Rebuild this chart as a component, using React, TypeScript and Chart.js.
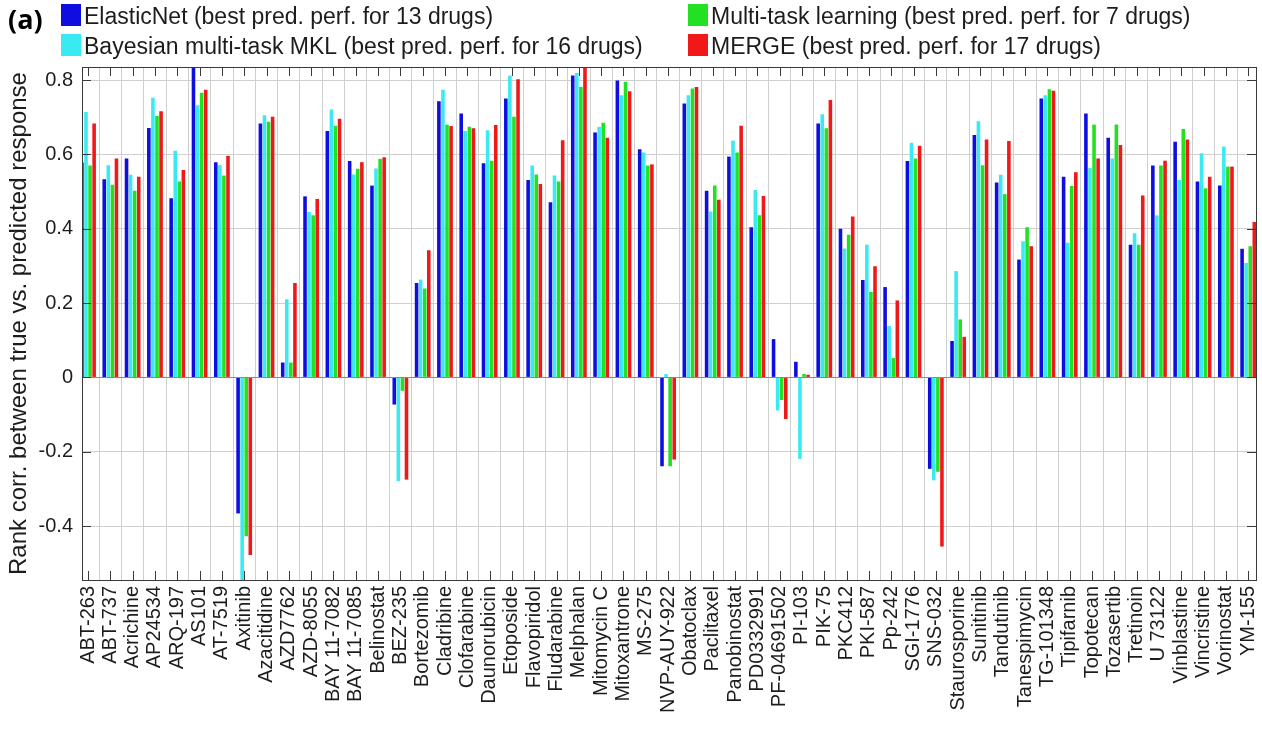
import { useEffect, useRef } from "react";
import { Chart, registerables } from "chart.js";

Chart.register(...registerables);

// Drug names along the x axis
const drugs = [
  "ABT-263", "ABT-737", "Acrichine", "AP24534", "ARQ-197", "AS101", "AT-7519", "Axitinib",
  "Azacitidine", "AZD7762", "AZD-8055", "BAY 11-7082", "BAY 11-7085", "Belinostat", "BEZ-235",
  "Bortezomib", "Cladribine", "Clofarabine", "Daunorubicin", "Etoposide", "Flavopiridol",
  "Fludarabine", "Melphalan", "Mitomycin C", "Mitoxantrone", "MS-275", "NVP-AUY-922",
  "Obatoclax", "Paclitaxel", "Panobinostat", "PD0332991", "PF-04691502", "PI-103", "PIK-75",
  "PKC412", "PKI-587", "Pp-242", "SGI-1776", "SNS-032", "Staurosporine", "Sunitinib",
  "Tandutinib", "Tanespimycin", "TG-101348", "Tipifarnib", "Topotecan", "Tozasertib",
  "Tretinoin", "U 73122", "Vinblastine", "Vincristine", "Vorinostat", "YM-155",
];

// Rank correlation per drug for each method
const elasticNet = [
  0.578, 0.533, 0.589, 0.671, 0.482, 0.84, 0.579, -0.366, 0.683, 0.04, 0.487, 0.663, 0.582,
  0.516, -0.073, 0.254, 0.743, 0.71, 0.576, 0.75, 0.531, 0.471, 0.812, 0.659, 0.799, 0.614,
  -0.239, 0.737, 0.502, 0.594, 0.404, 0.103, 0.042, 0.683, 0.4, 0.262, 0.243, 0.582, -0.246,
  0.098, 0.652, 0.524, 0.317, 0.75, 0.54, 0.71, 0.645, 0.357, 0.57, 0.634, 0.527, 0.516, 0.346,
];
const bayesianMKL = [
  0.714, 0.571, 0.545, 0.752, 0.61, 0.732, 0.571, -0.56, 0.705, 0.21, 0.445, 0.721, 0.546,
  0.562, -0.279, 0.263, 0.774, 0.663, 0.665, 0.812, 0.57, 0.543, 0.819, 0.674, 0.759, 0.605,
  0.009, 0.759, 0.446, 0.637, 0.504, -0.089, -0.219, 0.708, 0.347, 0.357, 0.138, 0.631,
  -0.277, 0.286, 0.689, 0.545, 0.366, 0.759, 0.362, 0.563, 0.589, 0.388, 0.436, 0.531, 0.603,
  0.621, 0.308,
];
const multiTask = [
  0.57, 0.518, 0.502, 0.703, 0.527, 0.766, 0.543, -0.427, 0.688, 0.04, 0.436, 0.677, 0.561,
  0.588, -0.036, 0.239, 0.68, 0.674, 0.583, 0.701, 0.546, 0.527, 0.781, 0.685, 0.795, 0.57,
  -0.239, 0.777, 0.516, 0.605, 0.436, -0.061, 0.009, 0.67, 0.384, 0.23, 0.052, 0.589, -0.254,
  0.156, 0.571, 0.493, 0.404, 0.775, 0.515, 0.68, 0.68, 0.357, 0.57, 0.668, 0.509, 0.567,
  0.353,
];
const mergeScores = [
  0.683, 0.589, 0.54, 0.716, 0.558, 0.774, 0.596, -0.478, 0.701, 0.254, 0.48, 0.696, 0.579,
  0.592, -0.275, 0.342, 0.676, 0.67, 0.679, 0.802, 0.52, 0.638, 0.85, 0.645, 0.77, 0.573,
  -0.221, 0.781, 0.478, 0.677, 0.488, -0.112, 0.007, 0.746, 0.433, 0.299, 0.207, 0.623,
  -0.455, 0.109, 0.64, 0.636, 0.353, 0.771, 0.552, 0.589, 0.625, 0.489, 0.583, 0.64, 0.54,
  0.567, 0.418,
];

const seriesLabels = [
  "ElasticNet (best pred. perf. for 13 drugs)",
  "Bayesian multi-task MKL (best pred. perf. for 16 drugs)",
  "Multi-task learning (best pred. perf. for 7 drugs)",
  "MERGE (best pred. perf. for 17 drugs)",
];
const seriesColors = ["#0e0ee0", "#3aeaf2", "#22e022", "#f01818"];

const yTicks = [0.8, 0.6, 0.4, 0.2, 0, -0.2, -0.4];
const yMin = -0.545;
const yMax = 0.835;
const xMin = -0.27;
const xMax = 52.35;

const yTitle = "Rank corr. between true vs. predicted response";
const panelTag = "(a)";

const FONT = "'Liberation Sans', Arial, sans-serif";
const INK = "#1c1c1c";

// Axes box, zero baseline and inward tick marks drawn over the bars
const axesFrame = {
  id: "axesFrame",
  afterDatasetsDraw(chart: any) {
    const { ctx, chartArea: a, scales } = chart;
    const x = scales.x;
    const y = scales.y;
    ctx.save();
    const y0 = Math.round(y.getPixelForValue(0)) + 0.5;
    ctx.strokeStyle = "#8a8a8a";
    ctx.lineWidth = 1;
    ctx.beginPath();
    ctx.moveTo(a.left, y0);
    ctx.lineTo(a.right, y0);
    ctx.stroke();

    ctx.strokeStyle = "#3a3a3a";
    ctx.beginPath();
    const tl = 9;
    for (const v of yTicks) {
      const py = Math.round(y.getPixelForValue(v)) + 0.5;
      ctx.moveTo(a.left, py);
      ctx.lineTo(a.left + tl, py);
      ctx.moveTo(a.right, py);
      ctx.lineTo(a.right - tl, py);
    }
    for (let i = 0; i < drugs.length; i++) {
      const px = Math.round(x.getPixelForValue(i)) + 0.5;
      ctx.moveTo(px, a.top);
      ctx.lineTo(px, a.top + tl);
      ctx.moveTo(px, a.bottom);
      ctx.lineTo(px, a.bottom - tl);
    }
    ctx.stroke();
    ctx.strokeRect(Math.round(a.left) + 0.5, Math.round(a.top) + 0.5,
      Math.round(a.right - a.left), Math.round(a.bottom - a.top));
    ctx.restore();
  },
};

// Two-column legend and panel tag above the axes
const topLegend = {
  id: "topLegend",
  afterDraw(chart: any) {
    const { ctx } = chart;
    ctx.save();
    ctx.fillStyle = "#000";
    ctx.font = `bold 27px 'Open Sans', ${FONT}`;
    ctx.textBaseline = "alphabetic";
    ctx.textAlign = "left";
    ctx.fillText(panelTag, 8, 29);

    const cols = [61, 688];
    const rows = [4, 34];
    ctx.font = `23px ${FONT}`;
    chart.data.datasets.forEach((ds: any, i: number) => {
      const cx = cols[Math.floor(i / 2)];
      const cy = rows[i % 2];
      ctx.fillStyle = ds.backgroundColor;
      ctx.fillRect(cx, cy, 20, 22);
      ctx.fillStyle = INK;
      ctx.fillText(ds.label, cx + 23, cy + 20);
    });
    ctx.restore();
  },
};

export default function App() {
  const canvasRef = useRef<HTMLCanvasElement | null>(null);

  useEffect(() => {
    const canvas = canvasRef.current;
    if (!canvas) return;
    const series = [elasticNet, bayesianMKL, multiTask, mergeScores];
    const chart = new Chart(canvas, {
      type: "bar",
      data: {
        datasets: series.map((values, s) => ({
          label: seriesLabels[s],
          data: values.map((v, i) => ({ x: i, y: v })),
          backgroundColor: seriesColors[s],
          borderWidth: 0,
          categoryPercentage: 0.73,
          barPercentage: 0.88,
        })),
      },
      options: {
        responsive: false,
        animation: false,
        layout: { padding: { top: 67, right: 6, left: 0, bottom: 0 } },
        plugins: {
          legend: { display: false },
          tooltip: { enabled: false },
        },
        scales: {
          x: {
            type: "linear",
            min: xMin,
            max: xMax,
            offset: false,
            afterBuildTicks: (s: any) => {
              s.ticks = drugs.map((_, i) => ({ value: i }));
            },
            afterFit: (s: any) => {
              s.height = 151;
              s.paddingLeft = 0;
              s.paddingRight = 0;
            },
            grid: { color: "#cfcfcf", drawTicks: false },
            border: { display: false },
            ticks: {
              autoSkip: false,
              minRotation: 90,
              maxRotation: 90,
              padding: 6,
              color: INK,
              font: { family: FONT, size: 20 },
              callback: (v: any) => drugs[v as number] ?? "",
            },
          },
          y: {
            min: yMin,
            max: yMax,
            afterBuildTicks: (s: any) => {
              s.ticks = yTicks.map((v) => ({ value: v }));
            },
            afterFit: (s: any) => {
              s.width = 82;
              s.paddingTop = 0;
              s.paddingBottom = 0;
            },
            grid: { color: "#cfcfcf", drawTicks: false },
            border: { display: false },
            title: {
              display: true,
              text: yTitle,
              color: INK,
              font: { family: FONT, size: 24 },
              padding: { top: 5, bottom: 0 },
            },
            ticks: {
              padding: 9,
              color: INK,
              font: { family: FONT, size: 20 },
              callback: (v: any) => (v === 0 ? "0" : Number(v).toFixed(1)),
            },
          },
        },
      },
      plugins: [axesFrame, topLegend],
    });
    return () => chart.destroy();
  }, []);

  return (
    <div style={{ position: "fixed", left: 0, top: 0, width: 1262, height: 731, background: "#fff" }}>
      <canvas ref={canvasRef} width={1262} height={731} />
    </div>
  );
}
